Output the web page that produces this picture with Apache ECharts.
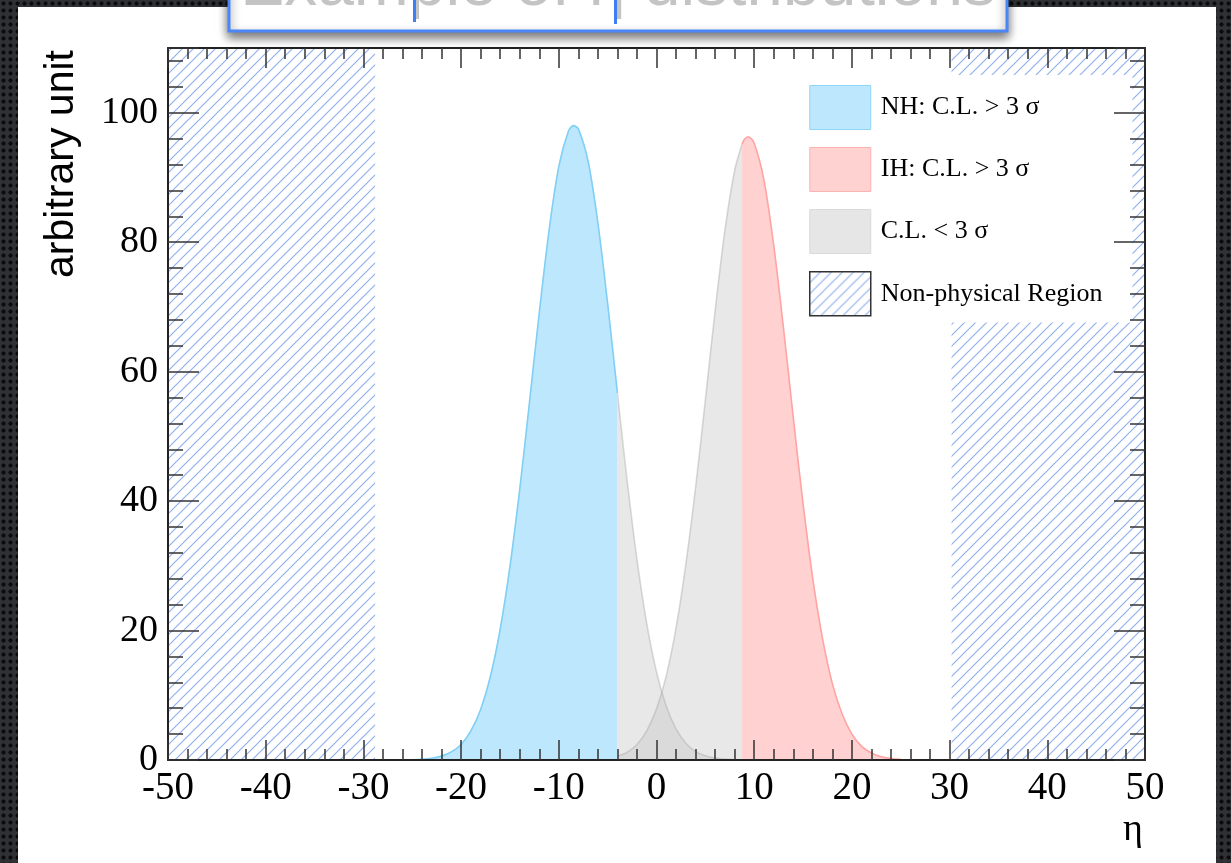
<!DOCTYPE html>
<html>
<head>
<meta charset="utf-8">
<script src="https://cdn.jsdelivr.net/npm/echarts@6/dist/echarts.min.js"></script>
<style>
  html, body { margin:0; padding:0; width:1231px; height:863px; overflow:hidden; }
  body {
    background-color:#303134;
    background-image: radial-gradient(circle at 50% 50%, #0b0b0c 0, #0b0b0c 1.7px, rgba(0,0,0,0) 2.4px);
    background-size: 7px 7px;
  }
  #panel { position:absolute; left:18px; top:7px; width:1198px; height:856px; background:#fff; }
  #chart { position:absolute; left:0; top:0; width:1231px; height:863px; }
</style>
</head>
<body>
<div id="panel"></div>
<div id="chart"></div>
<script>
// ---------------- data ----------------
const xTicks = [-50, -40, -30, -20, -10, 0, 10, 20, 30, 40, 50];
const yTicks = [0, 20, 40, 60, 80, 100];

// NH distribution, part with C.L. > 3 sigma (blue)
const nhBlueEta = [-25, -24, -23, -22, -21, -20, -19, -18, -17, -16, -15, -14, -13, -12, -11, -10, -9, -8.5, -8, -7, -6, -5, -4];
const nhBlueVal = [0.05, 0.12, 0.28, 0.6, 1.25, 2.4, 4.5, 7.8, 12.9, 20.2, 29.9, 41.8, 55.3, 69.1, 81.8, 91.7, 97.2, 98.0, 97.5, 92.5, 83.0, 70.5, 56.7];
// NH distribution, part with C.L. < 3 sigma (grey)
const nhGreyEta = [-4, -3, -2, -1, 0, 1, 2, 3, 4, 5, 6, 7, 8];
const nhGreyVal = [56.7, 43.1, 31.0, 21.1, 13.6, 8.3, 4.8, 2.6, 1.3, 0.65, 0.3, 0.13, 0.05];
// IH distribution, part with C.L. < 3 sigma (grey)
const ihGreyEta = [-7, -6, -5, -4, -3, -2, -1, 0, 1, 2, 3, 4, 5, 6, 7, 8, 8.75];
const ihGreyVal = [0.05, 0.12, 0.27, 0.6, 1.2, 2.4, 4.5, 7.9, 13.0, 20.4, 30.2, 42.1, 55.6, 69.4, 81.8, 91.1, 95.1];
// IH distribution, part with C.L. > 3 sigma (red)
const ihRedEta = [8.75, 9, 9.4, 10, 11, 12, 13, 14, 15, 16, 17, 18, 19, 20, 21, 22, 23, 24, 25];
const ihRedVal = [95.1, 95.9, 96.3, 95.3, 89.6, 79.5, 66.7, 52.9, 39.6, 28.0, 18.7, 11.8, 7.1, 4.0, 2.1, 1.07, 0.5, 0.23, 0.1];
// Non-physical regions (eta ranges)
const nonPhysLeft = [-50, -28.8];
const nonPhysRight = [30.2, 50];

const seriesNames = ['NH: C.L. > 3 σ', 'IH: C.L. > 3 σ', 'C.L. < 3 σ', 'Non-physical Region'];
const xAxisTitle = 'η';
const yAxisTitle = 'arbitrary unit';
const slideTitle = 'Example of η distributions';

// ---------------- helpers ----------------
const X_MIN = xTicks[0], X_MAX = xTicks[xTicks.length - 1], Y_MIN = yTicks[0], Y_MAX = 110;
function pairs(xs, ys) { return xs.map((x, i) => [x, ys[i]]); }

function hatchCanvas() {
  const n = 11;
  const c = document.createElement('canvas');
  c.width = n; c.height = n;
  const g = c.getContext('2d');
  g.strokeStyle = '#92b1ec';
  g.lineWidth = 1.2;
  g.beginPath();
  g.moveTo(-1, n + 1); g.lineTo(n + 1, -1);
  g.moveTo(-1, 1); g.lineTo(1, -1);
  g.moveTo(n - 1, n + 1); g.lineTo(n + 1, n - 1);
  g.stroke();
  return c;
}
const hatch = { image: hatchCanvas(), repeat: 'repeat' };

const SERIF = '"Liberation Serif", "DejaVu Serif", serif';
const SANS = '"Liberation Sans", Arial, sans-serif';

const tickStyle = { color: '#333', width: 1.5 };
function xAx(pos, labels) {
  return {
    type: 'value', position: pos, min: X_MIN, max: X_MAX, interval: 10, z: 10,
    axisLine: { show: true, onZero: false, lineStyle: { color: '#222', width: 2 } },
    axisTick: { show: true, inside: true, length: 20, lineStyle: tickStyle },
    minorTick: { show: true, splitNumber: 5, length: 11, lineStyle: tickStyle },
    splitLine: { show: false }, minorSplitLine: { show: false },
    axisLabel: { show: labels, fontFamily: SERIF, fontSize: 39, color: '#000', margin: 9 }
  };
}
function yAx(pos, labels) {
  return {
    type: 'value', position: pos, min: Y_MIN, max: Y_MAX, interval: 20, z: 10,
    axisLine: { show: true, onZero: false, lineStyle: { color: '#222', width: 2 } },
    axisTick: { show: true, inside: true, length: 31, lineStyle: tickStyle },
    minorTick: { show: true, splitNumber: 5, length: 15, lineStyle: tickStyle },
    splitLine: { show: false }, minorSplitLine: { show: false },
    axisLabel: { show: labels, fontFamily: SERIF, fontSize: 38, color: '#000', margin: 10, showMaxLabel: false }
  };
}

function areaSeries(name, data, line, fill, z) {
  return {
    name, type: 'line', data, xAxisIndex: 0, yAxisIndex: 0,
    smooth: 0.3, symbol: 'none', silent: true, z,
    lineStyle: { color: line, width: 1.6 },
    itemStyle: { color: fill },
    areaStyle: { color: fill, opacity: 1 }
  };
}
function regionSeries(range, z) {
  return {
    name: seriesNames[3], type: 'line', xAxisIndex: 0, yAxisIndex: 0,
    data: [[range[0], Y_MAX], [range[1], Y_MAX]],
    symbol: 'none', silent: true, z,
    lineStyle: { width: 0 },
    itemStyle: { color: '#92b1ec' },
    areaStyle: { color: hatch, opacity: 1 }
  };
}

const chart = echarts.init(document.getElementById('chart'), null, { renderer: 'canvas' });
chart.setOption({
  animation: false,
  backgroundColor: 'transparent',
  grid: { left: 168, right: 86, top: 48, bottom: 103, containLabel: false },
  xAxis: [xAx('bottom', true), xAx('top', false)],
  yAxis: [yAx('left', true), yAx('right', false)],
  legend: {
    show: true, orient: 'vertical', left: 800, top: 75,
    padding: [10, 30, 6, 9], itemWidth: 61, itemHeight: 44, itemGap: 17,
    backgroundColor: '#fff', icon: 'rect', selectedMode: false, z: 4,
    textStyle: { fontFamily: SERIF, fontSize: 26, color: '#000', padding: [6, 0, 0, 5] },
    data: [
      { name: seriesNames[0], itemStyle: { color: '#bde7fc', borderColor: '#8ed6f8', borderWidth: 1 } },
      { name: seriesNames[1], itemStyle: { color: '#ffd2d2', borderColor: '#ffb0b0', borderWidth: 1 } },
      { name: seriesNames[2], itemStyle: { color: '#e6e6e6', borderColor: '#dadada', borderWidth: 1 } },
      { name: seriesNames[3], itemStyle: { color: hatch, borderColor: '#333', borderWidth: 1.5 } }
    ]
  },
  series: [
    regionSeries(nonPhysLeft, 1),
    regionSeries(nonPhysRight, 1),
    areaSeries(seriesNames[2], pairs(nhGreyEta, nhGreyVal), 'rgba(170,170,170,0.45)', 'rgba(190,190,190,0.36)', 2),
    areaSeries(seriesNames[2], pairs(ihGreyEta, ihGreyVal), 'rgba(170,170,170,0.45)', 'rgba(190,190,190,0.36)', 2),
    areaSeries(seriesNames[0], pairs(nhBlueEta, nhBlueVal), '#7fcff6', '#bde7fc', 3),
    areaSeries(seriesNames[1], pairs(ihRedEta, ihRedVal), '#ffa3a3', '#ffd1d1', 3)
  ],
  graphic: [
    { type: 'rect', z: 50, shape: { x: 229, y: -20, width: 778, height: 51 },
      style: { fill: '#fff', stroke: '#4a86f5', lineWidth: 3, shadowBlur: 10, shadowOffsetY: 5, shadowColor: 'rgba(0,0,0,0.55)' } },
    { type: 'text', z: 51, x: 618, y: -13,
      style: { text: slideTitle, fill: '#c4c4c4', font: '66px ' + SANS, textAlign: 'center', textVerticalAlign: 'middle',
               shadowBlur: 5, shadowColor: 'rgba(120,120,120,0.7)' } },
    { type: 'rect', z: 52, shape: { x: 413, y: 0, width: 3, height: 22 }, style: { fill: '#3f7df2' } },
    { type: 'rect', z: 52, shape: { x: 614, y: 0, width: 3, height: 24 }, style: { fill: '#3f7df2' } },
    { type: 'text', z: 20, x: 62, y: 164, rotation: Math.PI / 2,
      style: { text: yAxisTitle, fill: '#000', font: '41px ' + SANS, textAlign: 'center', textVerticalAlign: 'middle' } },
    { type: 'text', z: 20, x: 1133, y: 830,
      style: { text: xAxisTitle, fill: '#000', font: '38px ' + SERIF, textAlign: 'center', textVerticalAlign: 'middle' } }
  ]
});
</script>
</body>
</html>
